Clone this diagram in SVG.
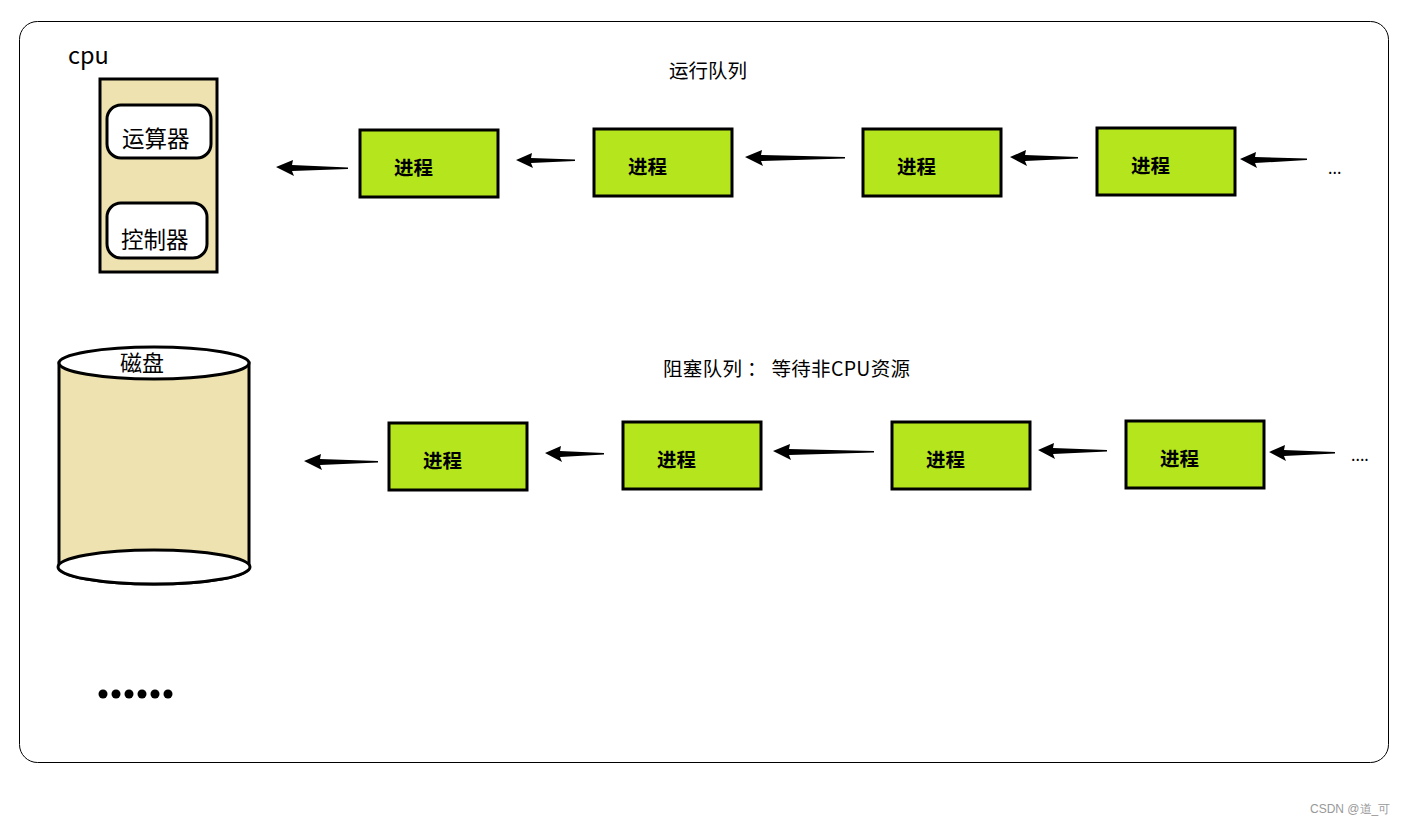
<svg xmlns="http://www.w3.org/2000/svg" width="1405" height="825" viewBox="0 0 1405 825">
<style>
.frame{fill:#fff;stroke:#000;stroke-width:1}
.cpu{fill:#EEE2B0;stroke:#000;stroke-width:3}
.unit{fill:#fff;stroke:#000;stroke-width:3}
.proc{fill:#B5E61D;stroke:#000;stroke-width:3}
.arr{fill:#000;stroke:none}
.t{font-family:"Noto Sans CJK SC","Microsoft YaHei",sans-serif;fill:#000}
.pt{font-family:"Noto Sans CJK SC",sans-serif;font-weight:bold;font-size:19.5px;fill:#000}
</style>
<rect width="1405" height="825" fill="#fff"/>
<rect class="frame" x="19.5" y="21.5" width="1369" height="741" rx="18"/>

<g id="cpu">
<text class="t" x="68" y="64" font-size="23.5">cpu</text>
<rect class="cpu" x="100" y="79" width="117" height="193"/>
</g>
<g id="alu">
<rect class="unit" x="107" y="105" width="104" height="53" rx="14"/>
<text class="t" x="122" y="147" font-size="22.5">运算器</text>
</g>
<g id="ctrl">
<rect class="unit" x="107" y="203" width="100" height="55" rx="14"/>
<text class="t" x="121" y="248" font-size="22.5">控制器</text>
</g>

<g id="disk">
<path d="M59,363 L59,567 A95,17 0 0 0 249,567 L249,363 Z" fill="#EEE2B0" stroke="#000" stroke-width="3"/>
<ellipse cx="154" cy="567" rx="96" ry="17" fill="#fff" stroke="#000" stroke-width="3"/>
<ellipse cx="154" cy="363" rx="95" ry="16" fill="#fff" stroke="#000" stroke-width="3"/>
<text class="t" x="120" y="371" font-size="22">磁盘</text>
</g>

<g id="title-run"><text class="t" x="669" y="78" font-size="19.5">运行队列</text></g>
<g id="title-block"><text class="t" x="663" y="376" font-size="19.5" textLength="247" lengthAdjust="spacing">阻塞队列 ： 等待非CPU资源</text></g>

<g id="run1"><rect class="proc" x="360" y="130" width="138" height="67"/><text class="pt" x="394" y="175">进程</text></g>
<g id="run2"><rect class="proc" x="594" y="129" width="138" height="67"/><text class="pt" x="628" y="174">进程</text></g>
<g id="run3"><rect class="proc" x="863" y="129" width="138" height="67"/><text class="pt" x="897" y="174">进程</text></g>
<g id="run4"><rect class="proc" x="1097" y="128" width="138" height="67"/><text class="pt" x="1131" y="173">进程</text></g>
<g id="run-more"><text class="t" x="1328" y="174" font-size="16">...</text></g>

<g id="blk1"><rect class="proc" x="389" y="423" width="138" height="67"/><text class="pt" x="423" y="468">进程</text></g>
<g id="blk2"><rect class="proc" x="623" y="422" width="138" height="67"/><text class="pt" x="657" y="467">进程</text></g>
<g id="blk3"><rect class="proc" x="892" y="422" width="138" height="67"/><text class="pt" x="926" y="467">进程</text></g>
<g id="blk4"><rect class="proc" x="1126" y="421" width="138" height="67"/><text class="pt" x="1160" y="466">进程</text></g>
<g id="blk-more"><text class="t" x="1351" y="461" font-size="16">....</text></g>

<g id="etc">
<circle cx="103" cy="694" r="4.5"/><circle cx="116" cy="694" r="4.5"/><circle cx="129" cy="694" r="4.5"/>
<circle cx="142" cy="694" r="4.5"/><circle cx="155" cy="694" r="4.5"/><circle cx="168" cy="694" r="4.5"/>
</g>

<g id="connectors">
<polygon class="arr" points="276,167 293,160 292,165 348,167.5 348,169 292,171 294,176"/>
<polygon class="arr" points="516,160 532,153 531,158 575,159.5 575,161 531,163 533,168"/>
<polygon class="arr" points="745,157 762,150 761,155 845,157 845,158.5 761,161 763,166"/>
<polygon class="arr" points="1010,157 1026,150 1025,155 1078,157 1078,158.5 1025,161 1027,166"/>
<polygon class="arr" points="1240,159 1256,152 1255,157 1307,158.5 1307,160 1255,163 1257,168"/>

<polygon class="arr" points="304,461 321,454 320,459 378,461 378,462.5 320,465 322,470"/>
<polygon class="arr" points="545,453 561,446 560,451 604,453 604,454.5 560,457 562,462"/>
<polygon class="arr" points="773,451 790,444 789,449 874,451 874,452.5 789,455 791,460"/>
<polygon class="arr" points="1038,450 1054,443 1053,448 1107,450 1107,451.5 1053,454 1055,459"/>
<polygon class="arr" points="1269,452 1285,445 1284,450 1335,452 1335,453.5 1284,456 1286,461"/>
</g>

<g id="watermark"><text x="1310" y="813" font-family="Liberation Sans,sans-serif" font-size="12" fill="#999">CSDN @道_可</text></g>
</svg>
